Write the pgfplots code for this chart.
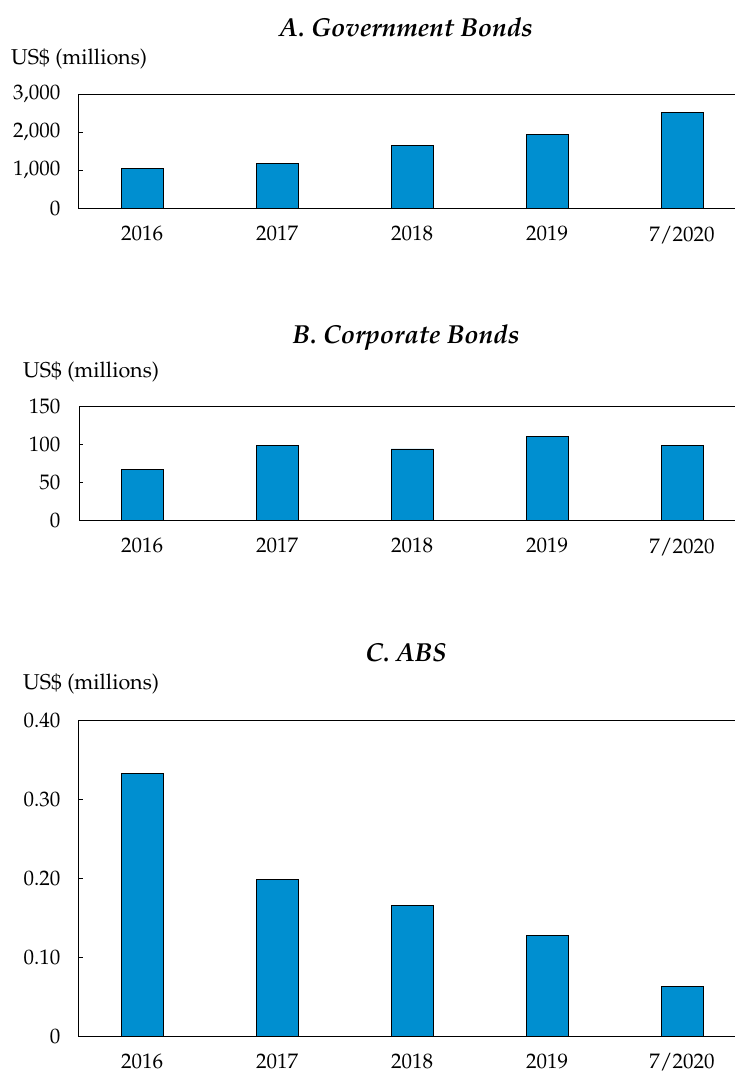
\documentclass[border=0pt]{standalone}
\usepackage[T1]{fontenc}
\usepackage{mathpazo}
\usepackage{pgfplots}
\pgfplotsset{compat=1.18}
\definecolor{barblue}{RGB}{0,143,208}

\pgfplotsset{panel/.style={
  scale only axis,
  anchor=south west,
  width=659pt,
  xmin=-0.467, xmax=4.414,
  ymin=0,
  ybar, bar width=42pt,
  xtick={0,1,2,3,4},
  xticklabels={2016,2017,2018,2019,7/2020},
  major x tick style={draw=none},
  ytick pos=left,
  tick align=inside,
  major tick length=4pt,
  y tick style={black, line width=0.8pt},
  axis line style={line width=1pt},
  ticklabel style={font=\fontsize{21}{24}\selectfont},
  xticklabel style={yshift=-14pt},
  yticklabel style={xshift=-15pt},
}}

\begin{document}
\begin{tikzpicture}
\useasboundingbox (0,0) rectangle (734pt,-1074pt);

% A. Government bonds
\begin{axis}[panel, at={(79pt,-208.3pt)}, height=114.3pt,
  ymax=3000, ytick={0,1000,2000,3000},
  yticklabels={0,{1,000},{2,000},{3,000}}]
\addplot[fill=barblue, draw=black, line width=0.8pt] coordinates {(0,1052)(1,1166)(2,1640)(3,1943)(4,2521)};
\end{axis}

% B. Corporate bonds
\begin{axis}[panel, at={(79pt,-520.3pt)}, height=114.3pt,
  ymax=150, ytick={0,50,100,150},
  yticklabels={0,50,100,150}]
\addplot[fill=barblue, draw=black, line width=0.8pt] coordinates {(0,66.4)(1,98.4)(2,93.6)(3,110.6)(4,98.0)};
\end{axis}

% C. ABS
\begin{axis}[panel, at={(79pt,-1036pt)}, height=316pt,
  ymax=0.4, ytick={0,0.1,0.2,0.3,0.4},
  yticklabels={0,0.10,0.20,0.30,0.40}]
\addplot[fill=barblue, draw=black, line width=0.8pt] coordinates {(0,0.3325)(1,0.198)(2,0.165)(3,0.1275)(4,0.0624)};
\end{axis}

\begin{scope}[every node/.style={inner sep=0pt}]
\node[font=\bfseries\itshape\fontsize{26}{30}\selectfont] at (406pt,-27pt) {A. Government Bonds};
\node[font=\bfseries\itshape\fontsize{26}{30}\selectfont] at (406pt,-338pt) {B. Corporate Bonds};
\node[font=\bfseries\itshape\fontsize{26}{30}\selectfont] at (406pt,-652pt) {C. ABS};
\node[anchor=west, font=\fontsize{21.5}{24}\selectfont] at (11pt,-59pt) {US\$ (millions)};
\node[anchor=west, font=\fontsize{21.5}{24}\selectfont] at (23pt,-372pt) {US\$ (millions)};
\node[anchor=west, font=\fontsize{21.5}{24}\selectfont] at (23pt,-684pt) {US\$ (millions)};
\end{scope}
\end{tikzpicture}
\end{document}
